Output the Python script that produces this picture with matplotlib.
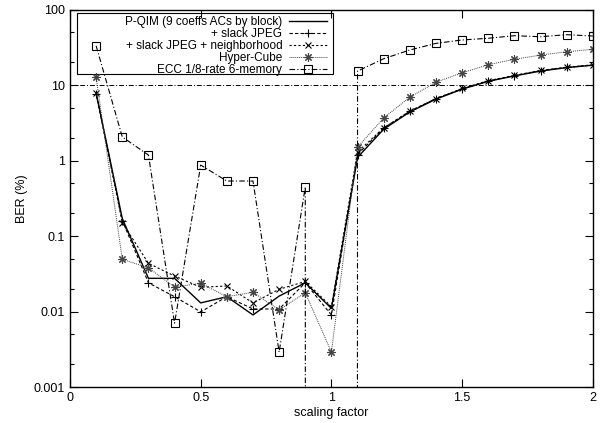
import matplotlib.pyplot as plt
import matplotlib.ticker as mticker
from matplotlib.patches import Rectangle

plt.rcParams['font.family'] = ['Liberation Sans', 'DejaVu Sans']

# Data
scaling = [0.1, 0.2, 0.3, 0.4, 0.5, 0.6, 0.7, 0.8, 0.9, 1.0,
           1.1, 1.2, 1.3, 1.4, 1.5, 1.6, 1.7, 1.8, 1.9, 2.0]

pqim = [7.8, 0.17, 0.0275, 0.0275, 0.013, 0.0157, 0.009, 0.016, 0.024, 0.011,
        1.1, 2.6, 4.4, 6.5, 8.8, 11.2, 13.2, 15.3, 17.0, 18.3]
slack = [7.6, 0.16, 0.024, 0.0157, 0.0099, 0.0157, 0.0108, 0.0108, 0.024, 0.009,
         1.2, 2.7, 4.5, 6.6, 8.9, 11.3, 13.3, 15.5, 17.1, 18.4]
slack_nb = [7.9, 0.15, 0.0435, 0.0295, 0.0209, 0.0218, 0.013, 0.0197, 0.025, 0.0116,
            1.3, 2.7, 4.5, 6.6, 9.0, 11.4, 13.4, 15.6, 17.2, 18.5]
hyper = [12.6, 0.049, 0.038, 0.021, 0.0237, 0.0157, 0.018, 0.0105, 0.0177, 0.0029,
         1.5, 3.66, 6.9, 10.9, 14.5, 18.6, 21.9, 24.9, 27.6, 29.7]
ecc = [33, 2.05, 1.18, 0.007, 0.87, 0.535, 0.535, 0.0029, 0.446, 0,
       15.3, 22.3, 29.1, 35.6, 39.5, 41.6, 45.0, 43.6, 46.4, 44.6]

labels = ['P-QIM (9 coeffs ACs by block)', '+ slack JPEG',
          '+ slack JPEG + neighborhood', 'Hyper-Cube', 'ECC 1/8-rate 6-memory']

fig = plt.figure(figsize=(6, 4.23), dpi=100)
ax = fig.add_axes([0.1167, 0.0851, 0.8713, 0.8924])
ax.set_yscale('log')

ax.plot(scaling, pqim, color='black', lw=1.0, label=labels[0])
ax.plot(scaling, slack, color='black', lw=0.8, linestyle=(0, (3, 2)),
        marker='+', markersize=6, markeredgewidth=0.8, label=labels[1])
ax.plot(scaling, slack_nb, color='black', lw=0.8, linestyle=(0, (2, 2)),
        marker='x', markersize=5, markeredgewidth=0.8, label=labels[2])
ax.plot(scaling, hyper, color='#444444', lw=0.7, linestyle=(0, (1, 1)),
        marker=(8, 2, 0), markersize=6, markeredgewidth=0.8, label=labels[3])
ax.plot(scaling, ecc, color='black', lw=0.8, linestyle=(0, (5, 2, 1, 2)),
        marker='s', markersize=5.5, markerfacecolor='none', markeredgewidth=0.8,
        label=labels[4])

# reference line at 10 %
ax.axhline(10, color='black', lw=0.7, linestyle=(0, (5, 2, 1, 2)))

ax.set_xlim(0, 2)
ax.set_ylim(0.001, 100)
ax.set_xticks([0, 0.5, 1, 1.5, 2])
ax.set_xticklabels(['0', '0.5', '1', '1.5', '2'])
ax.set_yticks([0.001, 0.01, 0.1, 1, 10, 100])
ax.set_yticklabels(['0.001', '0.01', '0.1', '1', '10', '100'])
ax.yaxis.set_minor_locator(mticker.LogLocator(base=10, subs=[2, 5]))
ax.yaxis.set_minor_formatter(mticker.NullFormatter())
ax.tick_params(which='both', direction='in', top=True, right=True,
               labelsize=9, width=0.8)
ax.tick_params(which='major', length=6)
ax.tick_params(which='minor', length=3)
for s in ax.spines.values():
    s.set_linewidth(1.0)

ax.set_xlabel('scaling factor', fontsize=9, labelpad=2)
ax.set_ylabel('BER (%)', fontsize=9, labelpad=4)

# gnuplot-style key: right-aligned text, sample on the right, no fill
leg = ax.legend(loc='upper right', bbox_to_anchor=(0.492, 0.982), markerfirst=False,
                fontsize=8.5, frameon=False, handlelength=3.2, labelspacing=0.0,
                borderpad=0, handletextpad=0.6, borderaxespad=0)
ax.add_patch(Rectangle((0.0134, 0.829), 0.49, 0.162, transform=ax.transAxes,
                       fill=False, edgecolor='black', lw=0.8))

plt.savefig('out.png', dpi=100)
